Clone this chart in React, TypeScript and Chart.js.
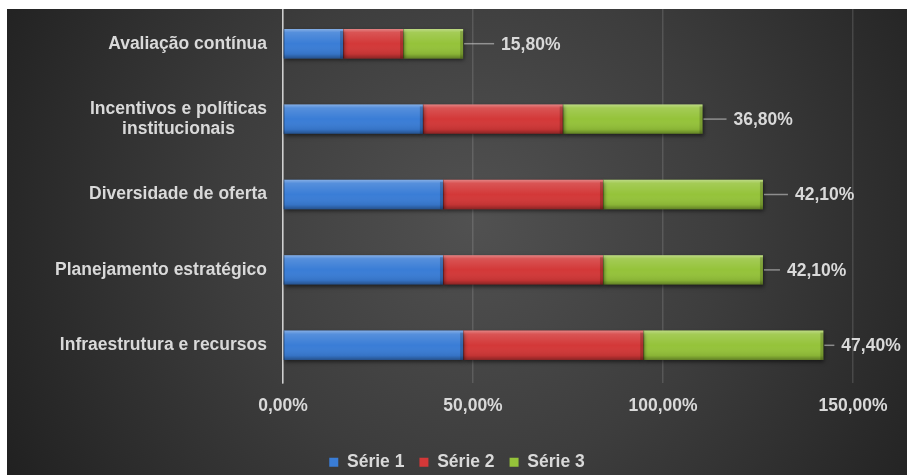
import React, { useEffect, useRef } from "react";
import { Chart, registerables } from "chart.js";

Chart.register(...registerables);

// ---- data ----
const categories: (string | string[])[] = [
  "Avaliação contínua",
  ["Incentivos e políticas", "institucionais"],
  "Diversidade de oferta",
  "Planejamento estratégico",
  "Infraestrutura e recursos",
];
const serie1 = [15.8, 36.8, 42.1, 42.1, 47.4];
const serie2 = [15.8, 36.8, 42.1, 42.1, 47.4];
const serie3 = [15.8, 36.8, 42.1, 42.1, 47.4];
const seriesNames = ["Série 1", "Série 2", "Série 3"];
const xTicks = [0, 50, 100, 150];

// ---- style ----
const COLORS = ["#3a7dd6", "#d33838", "#95c33a"];
const TEXT = "#d9d9d9";
const FONT_FAMILY = '"Liberation Sans", Arial, Helvetica, sans-serif';
const FONT_SIZE = 17.5;
const LEADER_LENGTHS = [30, 23, 24, 16, 10];

const fmt = (v: number) => v.toFixed(2).replace(".", ",") + "%";

const backgroundPlugin = {
  id: "bgGradient",
  beforeDraw(chart: any) {
    const { ctx, width, height } = chart;
    ctx.save();
    const cx = width * 0.52;
    const cy = height * 0.45;
    const g = ctx.createRadialGradient(cx, cy, 0, cx, cy, 560);
    g.addColorStop(0, "#515151");
    g.addColorStop(0.45, "#3d3d3d");
    g.addColorStop(1, "#1e1e1e");
    ctx.fillStyle = g;
    ctx.fillRect(0, 3, width, height - 3);
    ctx.restore();
  },
};

const barEffectsPlugin = {
  id: "barEffects",
  beforeDatasetsDraw(chart: any) {
    const ctx = chart.ctx;
    ctx.save();
    ctx.shadowColor = "rgba(0,0,0,0.55)";
    ctx.shadowBlur = 4;
    ctx.shadowOffsetY = 2;
    ctx.shadowOffsetX = 1;
  },
  afterDatasetsDraw(chart: any) {
    const ctx = chart.ctx;
    ctx.restore();
    ctx.save();
    chart.data.datasets.forEach((_: any, di: number) => {
      const meta = chart.getDatasetMeta(di);
      meta.data.forEach((bar: any) => {
        const { x, y, base, height } = bar.getProps(["x", "y", "base", "height"], true);
        const left = Math.min(x, base);
        const right = Math.max(x, base);
        const top = y - height / 2;
        const g = ctx.createLinearGradient(0, top, 0, top + height);
        g.addColorStop(0, "rgba(255,255,255,0.38)");
        g.addColorStop(0.12, "rgba(255,255,255,0.14)");
        g.addColorStop(0.5, "rgba(255,255,255,0)");
        g.addColorStop(0.85, "rgba(0,0,0,0.08)");
        g.addColorStop(1, "rgba(0,0,0,0.35)");
        ctx.fillStyle = g;
        ctx.fillRect(left, top, right - left, height);
        ctx.fillStyle = "rgba(0,0,0,0.18)";
        ctx.fillRect(right - 3, top + 2, 3, height - 2);
        ctx.fillStyle = "rgba(0,0,0,0.25)";
        ctx.fillRect(left, top, 1, height);
      });
    });
    ctx.restore();
  },
};

const labelsPlugin = {
  id: "customLabels",
  afterDraw(chart: any) {
    const { ctx, chartArea } = chart;
    const yScale = chart.scales.y;
    ctx.save();
    ctx.font = `bold ${FONT_SIZE}px ${FONT_FAMILY}`;
    ctx.fillStyle = TEXT;
    ctx.textBaseline = "middle";
    const rightEdge = chartArea.left - 16;
    categories.forEach((lab, i) => {
      const lines = Array.isArray(lab) ? lab : [lab];
      const widest = Math.max(...lines.map((l) => ctx.measureText(l).width));
      const cx = rightEdge - widest / 2;
      const yc = yScale.getPixelForValue(i);
      const lh = 19.5;
      ctx.textAlign = "center";
      lines.forEach((l, j) => {
        ctx.fillText(l, cx, yc + (j - (lines.length - 1) / 2) * lh);
      });
    });
    const last = chart.getDatasetMeta(chart.data.datasets.length - 1);
    last.data.forEach((bar: any, i: number) => {
      const { x, y } = bar.getProps(["x", "y"], true);
      const x0 = x + 1;
      const x1 = x0 + LEADER_LENGTHS[i];
      ctx.strokeStyle = "rgba(200,200,200,0.6)";
      ctx.lineWidth = 1.5;
      ctx.beginPath();
      ctx.moveTo(x0, y);
      ctx.lineTo(x1, y);
      ctx.stroke();
      ctx.textAlign = "left";
      ctx.fillStyle = TEXT;
      ctx.fillText(fmt(serie3[i]), x1 + 7, y + 1);
    });
    ctx.restore();
  },
};

export default function App() {
  const canvasRef = useRef<HTMLCanvasElement | null>(null);

  useEffect(() => {
    if (!canvasRef.current) return;
    const seriesData = [serie1, serie2, serie3];
    const chart = new Chart(canvasRef.current, {
      type: "bar",
      data: {
        labels: categories as any,
        datasets: seriesNames.map((name, i) => ({
          label: name,
          data: seriesData[i],
          backgroundColor: COLORS[i],
          borderWidth: 0,
          barPercentage: 0.39,
          categoryPercentage: 1,
        })),
      },
      options: {
        indexAxis: "y",
        animation: false,
        responsive: false,
        maintainAspectRatio: false,
        devicePixelRatio: 1,
        layout: { padding: 0 },
        plugins: {
          legend: {
            display: true,
            position: "bottom",
            labels: {
              color: TEXT,
              font: { family: FONT_FAMILY, size: FONT_SIZE, weight: "bold" },
              boxWidth: 9,
              boxHeight: 9,
              padding: 15,
            },
          },
          tooltip: { enabled: false },
        },
        scales: {
          x: {
            stacked: true,
            min: 0,
            max: 150,
            afterBuildTicks: (s: any) => {
              s.ticks = xTicks.map((v) => ({ value: v }));
            },
            afterFit: (s: any) => {
              s.height = 55.5;
            },
            grid: {
              drawTicks: false,
              color: (c: any) =>
                c.tick && c.tick.value === 0 ? "rgba(255,255,255,0.5)" : "rgba(255,255,255,0.13)",
              lineWidth: 1.5,
            },
            border: { display: false },
            ticks: {
              color: TEXT,
              padding: 13,
              font: { family: FONT_FAMILY, size: FONT_SIZE, weight: "bold" },
              callback: (v: any) => fmt(Number(v)),
              maxRotation: 0,
            },
          },
          y: {
            stacked: true,
            afterFit: (s: any) => {
              s.width = 276;
            },
            grid: { display: false },
            border: { display: true, color: "rgba(255,255,255,0.5)", width: 1.5 },
            ticks: { display: false },
          },
          yRight: {
            type: "category",
            axis: "y",
            position: "right",
            afterFit: (s: any) => {
              s.width = 54;
            },
            grid: { display: false },
            border: { display: false },
            ticks: { display: false },
          },
        },
      },
      plugins: [backgroundPlugin, barEffectsPlugin, labelsPlugin],
    } as any);
    return () => chart.destroy();
  }, []);

  return (
    <div style={{ position: "fixed", left: 7, top: 6, width: 900, height: 475 }}>
      <canvas ref={canvasRef} width={900} height={475} style={{ display: "block", width: 900, height: 475 }} />
    </div>
  );
}
